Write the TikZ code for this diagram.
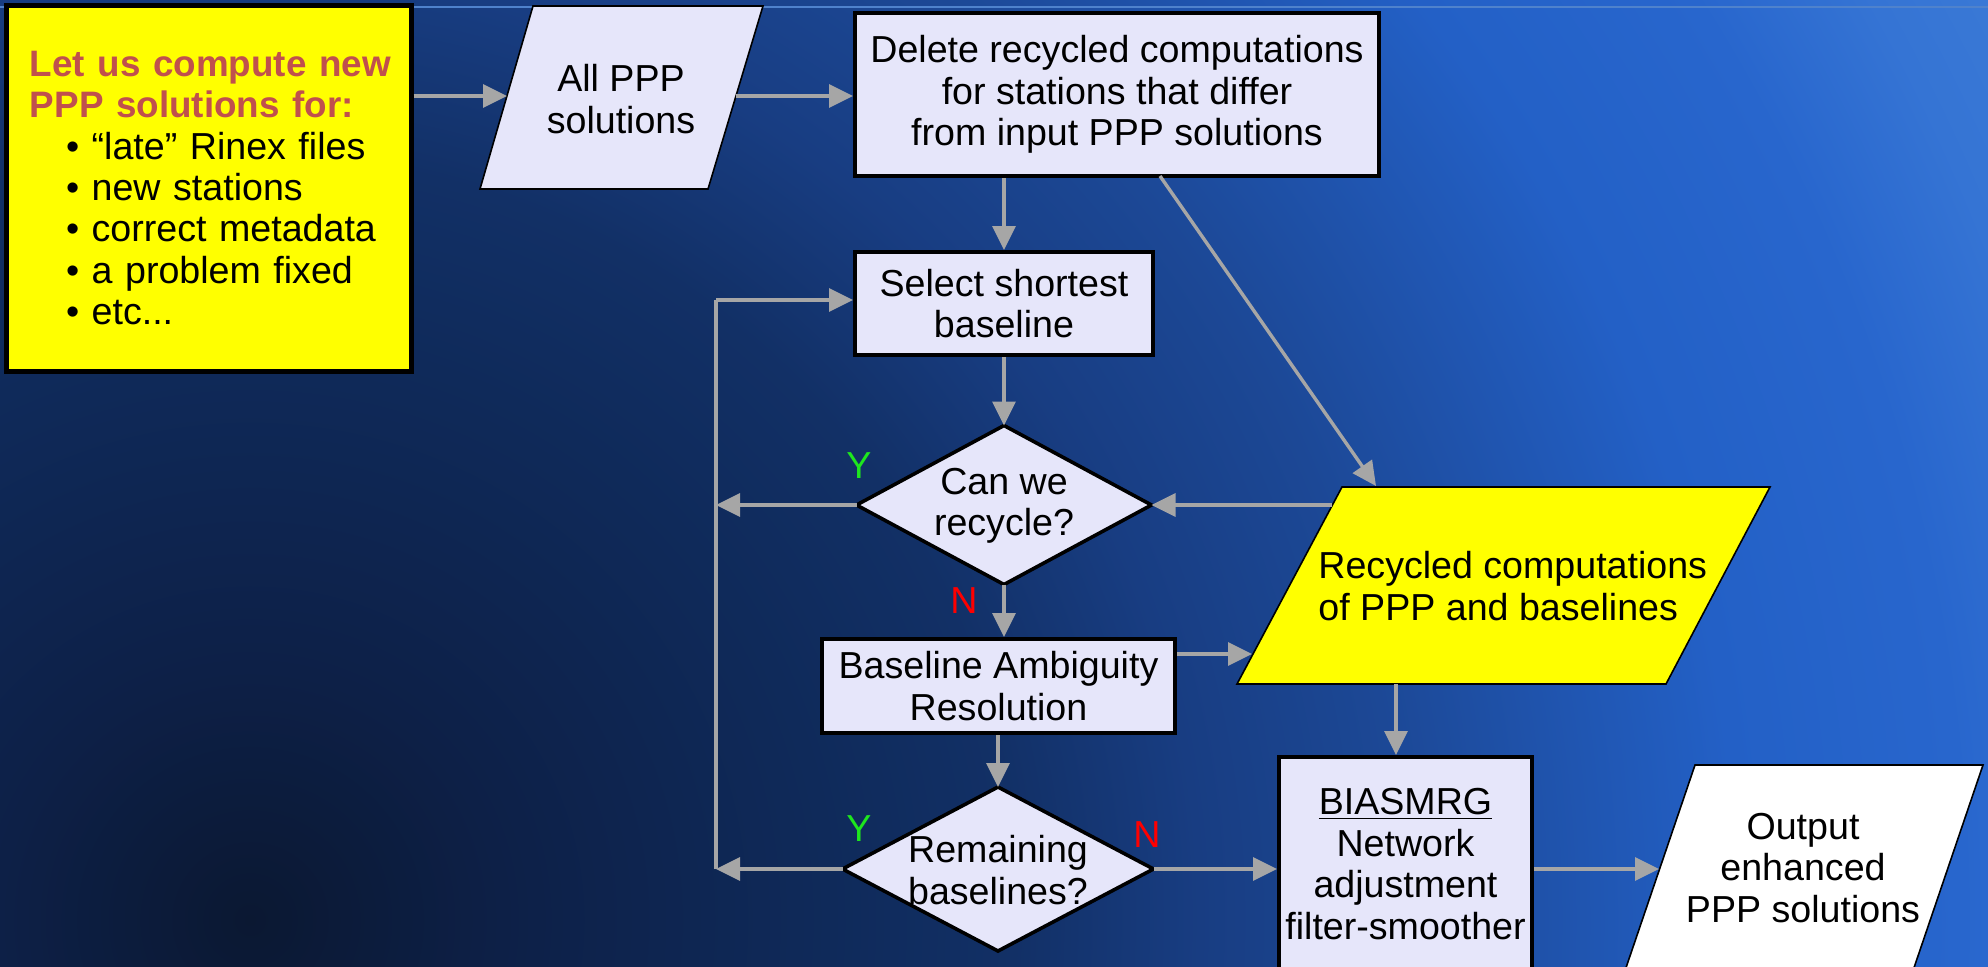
\documentclass[tikz,border=0pt]{standalone}
\usepackage{fontspec}
\setmainfont{Liberation Sans}
\usetikzlibrary{arrows.meta,shapes.geometric,calc}

\definecolor{boxfill}{HTML}{E6E6FA}
\definecolor{hilite}{HTML}{FFFF00}
\definecolor{headred}{HTML}{C0504D}
\definecolor{flowgray}{HTML}{A6A6A6}
\definecolor{yesgreen}{HTML}{1EE61E}
\definecolor{nored}{HTML}{FF0000}
\definecolor{rule}{HTML}{4F82CC}
\definecolor{bgA}{HTML}{0B1832}
\definecolor{bgB}{HTML}{0D2047}
\definecolor{bgC}{HTML}{0F2A5A}
\definecolor{bgD}{HTML}{123066}
\definecolor{bgE}{HTML}{183D82}
\definecolor{bgF}{HTML}{1C4896}
\definecolor{bgG}{HTML}{2360C6}
\definecolor{bgH}{HTML}{2866CD}
\definecolor{bgI}{HTML}{3574D4}
\definecolor{bgJ}{HTML}{3F7ED8}

% dark spot at the lower left, brightening towards the upper right
% (the middle 50bp of the shading maps onto the shaded square)
\pgfdeclareradialshading{slidebg}{\pgfpoint{0bp}{0bp}}{%
  color(0bp)=(bgA); color(3bp)=(bgB); color(6.9bp)=(bgC);
  color(9.1bp)=(bgD); color(11.3bp)=(bgE); color(13.7bp)=(bgF);
  color(17.7bp)=(bgG); color(20.4bp)=(bgH); color(22.2bp)=(bgI);
  color(25bp)=(bgJ); color(50bp)=(bgJ)}

\begin{document}
\begin{tikzpicture}[
  x=0.5pt, y=-0.5pt,
  font=\fontsize{18.8}{20.7}\selectfont,
  procbox/.style={draw=black, line width=2pt, fill=boxfill, inner sep=0pt, align=center},
  decision/.style={diamond, draw=black, line width=1.8pt, fill=boxfill, inner sep=0pt, outer sep=0pt},
  databox/.style={draw=black, line width=0.8pt},
  label/.style={inner sep=0pt, align=center},
  flow/.style={draw=flowgray, line width=1.7pt, -{Triangle[length=12pt,width=11.5pt]}},
  flowline/.style={draw=flowgray, line width=1.7pt},
  yes/.style={text=yesgreen, inner sep=0pt},
  no/.style={text=nored, inner sep=0pt}
]
\useasboundingbox (0,0) rectangle (1988,966);
\clip (0,0) rectangle (1988,966);

% background
\shade[shading=slidebg] (-1850,-1180) rectangle (2350,3020);
\draw[rule, line width=1pt] (0,7) -- (1988,7);

% starting note
\node[draw=black, line width=2.5pt, fill=hilite, minimum width=202.5pt, minimum height=183pt,
      text width=178.5pt, inner xsep=12pt, inner ysep=0pt, align=left] (intro) at (208.5,188)
  {\mbox{\textcolor{headred}{\bfseries\fontsize{18.4}{20.7}\selectfont Let us compute new}}\\
   \mbox{\textcolor{headred}{\bfseries\fontsize{18.4}{20.7}\selectfont PPP solutions for:}}\\
   \hspace*{18pt}\textbullet\ “late” Rinex files\\
   \hspace*{18pt}\textbullet\ new stations\\
   \hspace*{18pt}\textbullet\ correct metadata\\
   \hspace*{18pt}\textbullet\ a problem fixed\\
   \hspace*{18pt}\textbullet\ etc...};

% input data
\draw[databox, fill=boxfill] (533,6) -- (763,6) -- (708,189) -- (480,189) -- cycle;
\node[label] (alltxt) at (621,99) {All PPP\\solutions};
\coordinate (allL) at (507,96);
\coordinate (allR) at (736,96);

% process boxes
\node[procbox, minimum width=262pt, minimum height=81.5pt] (del) at (1117,94.5)
  {Delete recycled computations\\for stations that differ\\ from input PPP solutions};
\node[procbox, minimum width=149pt, minimum height=51.5pt] (sel) at (1004,303.5)
  {Select shortest\\baseline};
\node[decision, minimum width=147.5pt, minimum height=79.5pt] (can) at (1004,505) {};
\node[label] (cantxt) at (1004,506) {Can we\\recycle?};
\node[procbox, minimum width=176.5pt, minimum height=47pt] (base) at (998.5,686)
  {Baseline Ambiguity\\Resolution};
\node[decision, minimum width=155.5pt, minimum height=82pt] (rem) at (998,869) {};
\node[label] (remtxt) at (998,870) {Remaining\\baselines?};

% recycled store
\draw[databox, fill=hilite] (1342,487) -- (1770,487) -- (1666,684) -- (1237,684) -- cycle;
\node[label, anchor=west, align=left] (rectxt) at (1318,586)
  {Recycled computations\\of PPP and baselines};
\coordinate (recTop) at (1376,486);
\coordinate (recL1) at (1332,505);
\coordinate (recL2) at (1252,654);
\coordinate (recB) at (1396,684);

% network adjustment
\node[procbox, minimum width=126.5pt, minimum height=116.5pt] (bias) at (1405.5,873.5) {};
\node[label] (biastxt) at (1405.5,864)
  {\underline{BIASMRG}\\Network\\adjustment\\filter-smoother};

% output
\draw[databox, fill=white] (1695,765) -- (1983,765) -- (1903,1000) -- (1615,1000) -- cycle;
\node[label] (outtxt) at (1803,868) {Output\\enhanced\\PPP solutions};
\coordinate (outL) at (1659,869);

% loop line
\coordinate (loopTop) at (716,300);
\coordinate (loopBot) at (716,869);
\coordinate (delOut) at (1160,176);

% connectors
\draw[flow] (intro.east |- allL) -- (allL);
\draw[flow] (allR) -- (allR -| del.west);
\draw[flow] (sel.north |- del.south) -- (sel.north);
\draw[flow] (delOut) -- (recTop);
\draw[flowline] (loopBot) -- (loopTop);
\draw[flow] (loopTop) -- (loopTop -| sel.west);
\draw[flow] (sel.south) -- (can.north);
\draw[flow] (can.west) -- (can.west -| loopTop);
\draw[flow] (recL1) -- (can.east);
\draw[flow] (can.south) -- (can.south |- base.north);
\draw[flow] (base.east |- recL2) -- (recL2);
\draw[flow] (base.south -| rem.north) -- (rem.north);
\draw[flow] (rem.west) -- (rem.west -| loopTop);
\draw[flow] (rem.east) -- (rem.east -| bias.west);
\draw[flow] (recB) -- (recB |- bias.north);
\draw[flow] (bias.east |- outL) -- (outL);

% branch labels
\node[yes] (y1) at (859,466) {Y};
\node[no] (n1) at (964,601) {N};
\node[yes] (y2) at (859,829) {Y};
\node[no] (n2) at (1147,835) {N};
\end{tikzpicture}
\end{document}
